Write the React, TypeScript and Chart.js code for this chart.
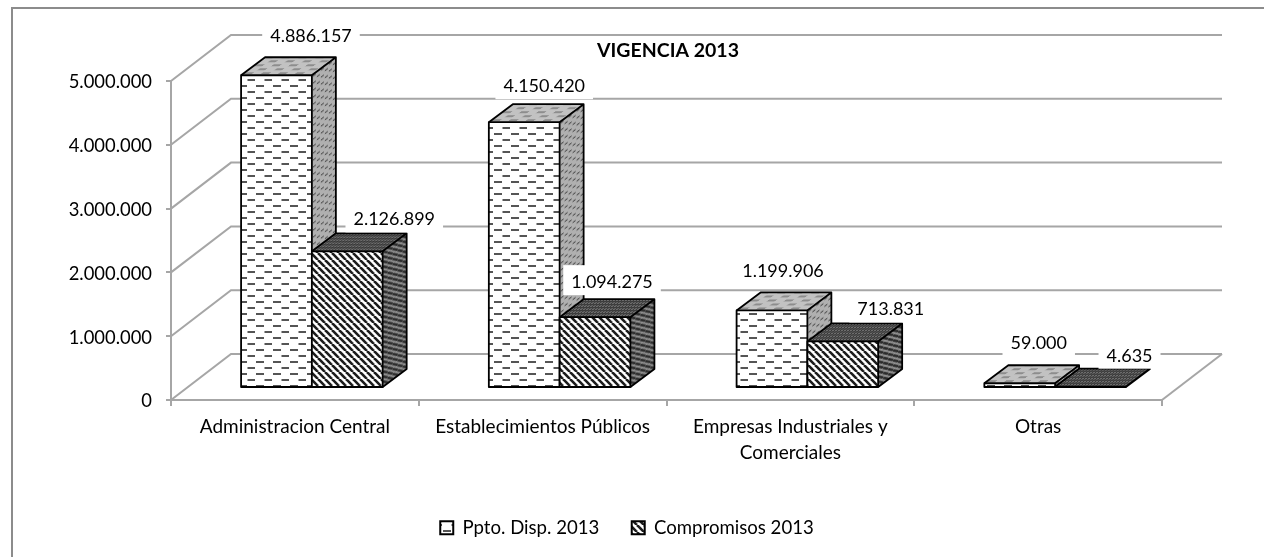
import React, { useEffect, useRef } from "react";
import { Chart, registerables } from "chart.js";

Chart.register(...registerables);

const categories = [
  "Administracion Central",
  "Establecimientos Públicos",
  ["Empresas Industriales y", "Comerciales"],
  "Otras",
];
const seriesNames = ["Ppto. Disp. 2013", "Compromisos 2013"];
const pptoValues = [4886157, 4150420, 1199906, 59000];
const compromisoValues = [2126899, 1094275, 713831, 4635];
const chartTitle = "VIGENCIA 2013";

// Label nudges relative to the top of each bar (layout only, px)
const labelNudges = [
  [[34.5, -40], [20, -37], [11, -40], [19, -41]],
  [[47, -33], [17, -36], [48, -33], [39, -32]],
];

const FONT = "Lato, 'Open Sans', sans-serif";
const GRID = "#a6a6a6";
const WALL = { dx: 60, dy: -46 };
const SHIFT = { dx: 17, dy: -13 };
const DEPTH = { dx: 24, dy: -18 };

const fmt = (v: number) => String(v).replace(/\B(?=(\d{3})+(?!\d))/g, ".");

function tile(w: number, h: number, paint: (c: CanvasRenderingContext2D) => void) {
  const cv = document.createElement("canvas");
  cv.width = w;
  cv.height = h;
  const c = cv.getContext("2d")!;
  paint(c);
  return c.createPattern(cv, "repeat")!;
}

function dashTile(bg: string, fg: string, w: number, h: number, dash: number, thick: number) {
  return tile(w, h, (c) => {
    c.fillStyle = bg;
    c.fillRect(0, 0, w, h);
    c.fillStyle = fg;
    c.fillRect(1, h / 4 - thick / 2, dash, thick);
    c.fillRect(1 + w / 2, (3 * h) / 4 - thick / 2, dash, thick);
  });
}

function stripeTile(bg: string, fg: string, p: number, lw: number) {
  return tile(p, p, (c) => {
    c.fillStyle = bg;
    c.fillRect(0, 0, p, p);
    c.strokeStyle = fg;
    c.lineWidth = lw;
    for (let i = -p; i <= p; i += p) {
      c.beginPath();
      c.moveTo(i, 0);
      c.lineTo(i + p, p);
      c.stroke();
    }
  });
}

function crossTile(bg: string, fg: string, p: number) {
  return tile(p, p, (c) => {
    c.fillStyle = bg;
    c.fillRect(0, 0, p, p);
    c.fillStyle = fg;
    c.fillRect(0, 0, p, 1);
    c.fillRect(0, 0, 1, p);
  });
}

export default function App() {
  const ref = useRef<HTMLCanvasElement>(null);

  useEffect(() => {
    document.body.style.margin = "0";
    const faces = [
      {
        front: dashTile("#ffffff", "#555555", 17, 12, 8, 2),
        top: dashTile("#c2c2c2", "#777777", 17, 8, 8, 1.4),
        side: dashTile("#b0b0b0", "#4a4a4a", 8, 7, 3, 1.2),
      },
      {
        front: stripeTile("#ffffff", "#1c1c1c", 7, 2.6),
        top: crossTile("#6e6e6e", "#363636", 3),
        side: stripeTile("#9a9a9a", "#262626", 5, 2),
      },
    ];

    const walls = {
      id: "walls",
      beforeDatasetsDraw(chart: any) {
        const { ctx, scales: { x, y } } = chart;
        const left = x.left, right = x.right;
        ctx.save();
        ctx.strokeStyle = GRID;
        ctx.lineWidth = 2;
        y.ticks.forEach((t: any) => {
          const py = y.getPixelForValue(t.value);
          ctx.beginPath();
          ctx.moveTo(left, py);
          ctx.lineTo(left + WALL.dx, py + WALL.dy);
          ctx.lineTo(right + WALL.dx, py + WALL.dy);
          ctx.stroke();
        });
        const py0 = y.getPixelForValue(0);
        ctx.beginPath();
        ctx.moveTo(right, py0);
        ctx.lineTo(right + WALL.dx, py0 + WALL.dy);
        ctx.stroke();
        ctx.restore();
      },
    };

    const drawSides = (chart: any, meta: any, f: any) => {
      const ctx = chart.ctx;
      const base = chart.scales.y.getPixelForValue(0) + SHIFT.dy;
      const slopeTop = DEPTH.dx / -DEPTH.dy;
      const slopeSide = DEPTH.dy / DEPTH.dx;
      meta.data.forEach((bar: any) => {
        const p = bar.getProps(["x", "y", "width"], true);
        const l = p.x - p.width / 2 + SHIFT.dx;
        const r = p.x + p.width / 2 + SHIFT.dx;
        const t = p.y + SHIFT.dy;
        const w = r - l;
        const h = base - t;
        ctx.save();
        ctx.save();
        ctx.transform(1, 0, slopeTop, -1, l, t);
        ctx.fillStyle = f.top;
        ctx.fillRect(0, 0, w, -DEPTH.dy);
        ctx.restore();
        ctx.save();
        ctx.transform(1, slopeSide, 0, 1, r, t);
        ctx.fillStyle = f.side;
        ctx.fillRect(0, 0, DEPTH.dx, h);
        ctx.restore();
        ctx.strokeStyle = "#000000";
        ctx.lineWidth = 1.8;
        ctx.lineJoin = "round";
        ctx.beginPath();
        ctx.moveTo(l, t);
        ctx.lineTo(l + DEPTH.dx, t + DEPTH.dy);
        ctx.lineTo(r + DEPTH.dx, t + DEPTH.dy);
        ctx.lineTo(r, t);
        ctx.moveTo(r + DEPTH.dx, t + DEPTH.dy);
        ctx.lineTo(r + DEPTH.dx, base + DEPTH.dy);
        ctx.lineTo(r, base);
        ctx.stroke();
        ctx.beginPath();
        ctx.rect(l, t, w, h);
        ctx.stroke();
        ctx.restore();
      });
    };

    const bars3d = {
      id: "bars3d",
      // Chart.js paints the left series last; skip that and paint left to right here.
      beforeDatasetDraw() {
        return false;
      },
      afterDatasetsDraw(chart: any) {
        const { ctx } = chart;
        chart.data.datasets.forEach((_: any, i: number) => {
          const meta = chart.getDatasetMeta(i);
          ctx.save();
          ctx.translate(SHIFT.dx, SHIFT.dy);
          meta.controller.draw();
          ctx.restore();
          drawSides(chart, meta, faces[i]);
        });
        ctx.save();
        ctx.font = `18px ${FONT}`;
        ctx.textAlign = "center";
        ctx.textBaseline = "middle";
        chart.data.datasets.forEach((ds: any, i: number) => {
          const meta = chart.getDatasetMeta(i);
          meta.data.forEach((bar: any, j: number) => {
            const p = bar.getProps(["x", "y"], true);
            const cx = p.x + SHIFT.dx + labelNudges[i][j][0];
            const cy = p.y + SHIFT.dy + labelNudges[i][j][1];
            const text = fmt(ds.data[j]);
            const tw = ctx.measureText(text).width;
            ctx.fillStyle = "#ffffff";
            ctx.fillRect(cx - tw / 2 - 8, cy - 16, tw + 16, 30);
            ctx.fillStyle = "#000000";
            ctx.fillText(text, cx, cy + 1);
          });
        });
        ctx.restore();
      },
    };

    const frame = {
      id: "frame",
      beforeDraw(chart: any) {
        const { ctx, width, height } = chart;
        ctx.save();
        ctx.fillStyle = "#ffffff";
        ctx.fillRect(0, 0, width, height);
        ctx.strokeStyle = "#8c8c8c";
        ctx.lineWidth = 2;
        ctx.strokeRect(12, 8, width + 20, height + 20);
        ctx.restore();
      },
      afterLayout(chart: any) {
        if (chart.titleBlock) {
          chart.titleBlock.left += 87;
          chart.titleBlock.right += 87;
        }
        if (chart.legend) {
          chart.legend.left += 46;
          chart.legend.right += 46;
        }
      },
    };

    const chart = new Chart(ref.current!, {
      type: "bar",
      data: {
        labels: categories as any,
        datasets: [
          {
            label: seriesNames[0],
            data: pptoValues,
            backgroundColor: faces[0].front,
            borderWidth: 0,
            clip: false,
          },
          {
            label: seriesNames[1],
            data: compromisoValues,
            backgroundColor: faces[1].front,
            borderWidth: 0,
            clip: false,
          },
        ] as any,
      },
      plugins: [frame, walls, bars3d],
      options: {
        responsive: false,
        animation: false,
        events: [],
        layout: { padding: { left: 0, right: 102, top: 0, bottom: 10 } },
        datasets: { bar: { categoryPercentage: 2 / 3.5, barPercentage: 1 } },
        plugins: {
          tooltip: { enabled: false },
          title: {
            display: true,
            text: chartTitle,
            color: "#000000",
            font: { family: FONT, size: 19.5, weight: "bold", lineHeight: 1.2 },
            padding: { top: 39.3, bottom: 18.3 },
          },
          legend: {
            position: "bottom",
            labels: {
              boxWidth: 13,
              boxHeight: 13,
              padding: 32.4,
              color: "#000000",
              font: { family: FONT, size: 18.6 },
              generateLabels(chart: any) {
                return chart.data.datasets.map((ds: any, i: number) => ({
                  text: ds.label,
                  fillStyle: faces[i].front,
                  strokeStyle: "#000000",
                  lineWidth: 2,
                  datasetIndex: i,
                  hidden: false,
                }));
              },
            },
          },
        },
        scales: {
          x: {
            afterFit: (s: any) => { s.height = 86; },
            grid: { drawOnChartArea: false, drawTicks: true, tickLength: 6, color: GRID, lineWidth: 2 },
            border: { color: GRID, width: 2 },
            ticks: {
              color: "#000000",
              maxRotation: 0,
              padding: 8,
              font: { family: FONT, size: 19, lineHeight: 1.36 },
            },
          },
          y: {
            min: 0,
            max: 5000000,
            afterFit: (s: any) => { s.width = 171; },
            grid: { drawOnChartArea: false, drawTicks: true, tickLength: 5, color: GRID, lineWidth: 2 },
            border: { color: GRID, width: 2 },
            ticks: {
              stepSize: 1000000,
              color: "#000000",
              padding: 14,
              labelOffset: 1.5,
              font: { family: FONT, size: 18.4 },
              callback: (v: any) => fmt(Number(v)),
            },
          },
        },
      } as any,
    });
    return () => chart.destroy();
  }, []);

  return <canvas ref={ref} width={1264} height={557} style={{ display: "block", width: 1264, height: 557 }} />;
}
